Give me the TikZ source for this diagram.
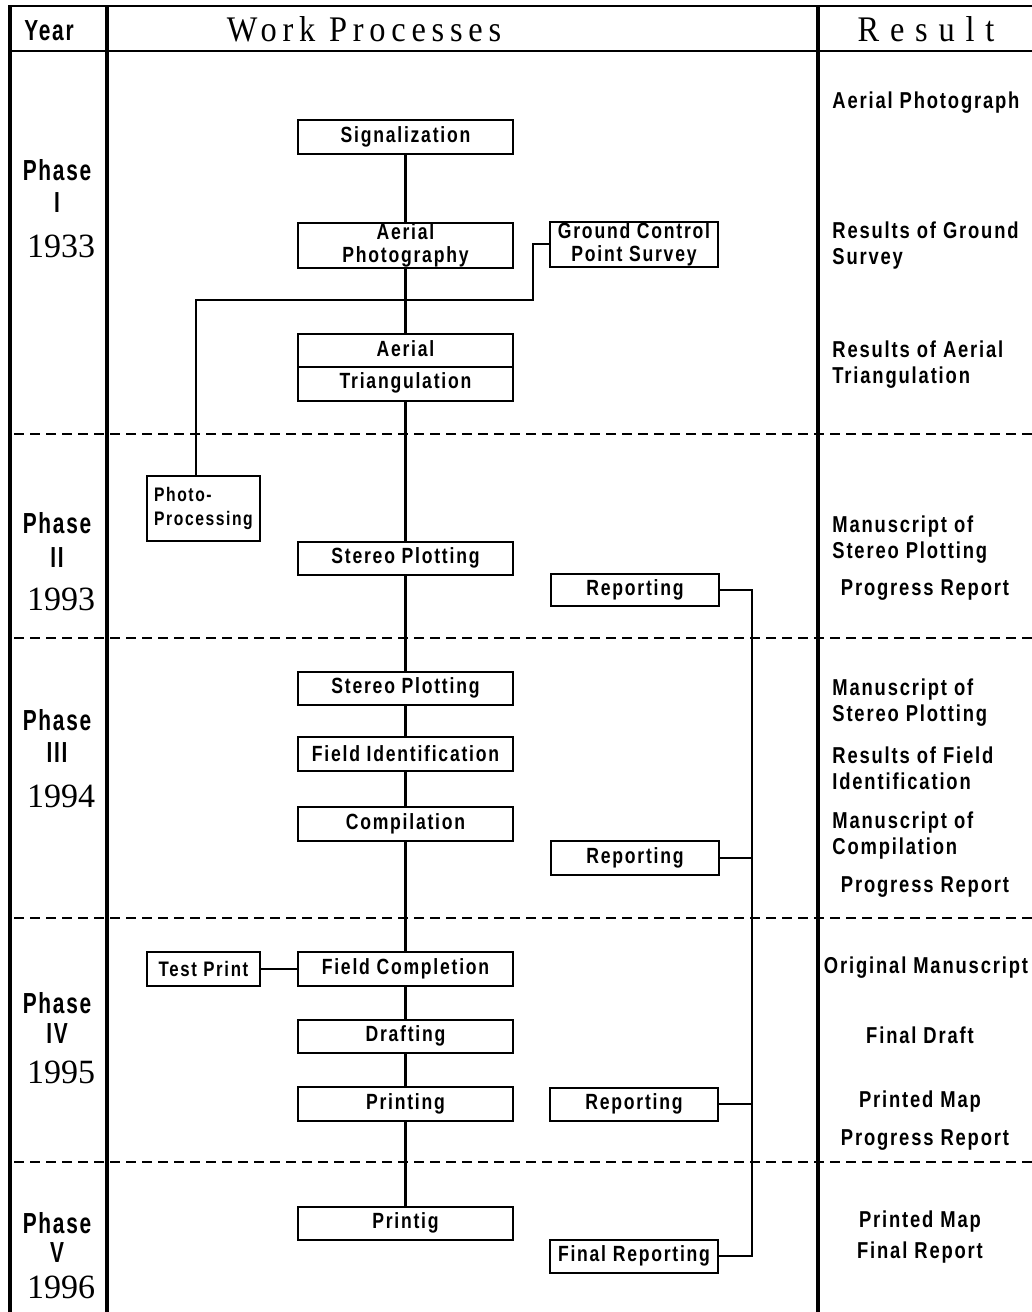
\documentclass[tikz,border=0pt]{standalone}
\usepackage{fontspec}
\setmainfont{Liberation Serif}
\newfontfamily\labfont[FakeStretch=0.8,LetterSpace=8]{Liberation Sans}
\newfontfamily\phfont[FakeStretch=0.72,LetterSpace=6]{Liberation Sans}
\newfontfamily\hdfont[FakeStretch=0.9,LetterSpace=16]{Liberation Serif}
\newfontfamily\rsfont[FakeStretch=0.9,LetterSpace=30]{Liberation Serif}
\begin{document}
\begin{tikzpicture}[x=0.5pt,y=-0.5pt,
  box/.style={draw, line width=1pt, rectangle, inner sep=0pt, align=center,
    font=\labfont\bfseries\fontsize{11}{12}\selectfont},
  mainw/.style={minimum width=107.5pt},
  sidew/.style={minimum width=84pt},
  conn/.style={line width=1.3pt},
  thinconn/.style={line width=0.9pt},
  frame/.style={line width=1.6pt},
  rule/.style={line width=0.6pt},
  sep/.style={line width=0.6pt, dash pattern=on 5pt off 3pt},
  res/.style={inner sep=0pt, align=left, font=\labfont\bfseries\fontsize{11.5}{13}\selectfont},
  ph/.style={inner sep=0pt, font=\phfont\bfseries\fontsize{14.5}{16}\selectfont},
  yr/.style={inner sep=0pt, font=\fontsize{17}{19}\selectfont}]
\useasboundingbox (0,0) rectangle (1032,1312);

% frame
\draw[frame] (10,5) -- (10,1312);
\draw[frame] (107,5) -- (107,1312);
\draw[frame] (818,5) -- (818,1312);
\draw[rule] (10,6) -- (1032,6);
\draw[rule] (10,51) -- (1032,51);
\foreach \yy in {434,638,918,1162} {\draw[sep] (14,\yy) -- (1032,\yy);}

% header
\node[inner sep=0pt, font=\phfont\bfseries\fontsize{14.5}{16}\selectfont] (hyear) at (49,31) {Year};
\node[inner sep=0pt, font=\hdfont\fontsize{18}{20}\selectfont] (hwork) at (364,29) {Work Processes};
\node[inner sep=0pt, font=\rsfont\fontsize{18}{20}\selectfont] (hres) at (926,29) {Result};

% phases
\node[ph] (p1a) at (57,170) {Phase};
\node[ph] (p1b) at (57,203) {I};
\node[yr] (p1c) at (61,246) {1933};
\node[ph] (p2a) at (57,523) {Phase};
\node[ph] (p2b) at (57,558) {II};
\node[yr] (p2c) at (61,599) {1993};
\node[ph] (p3a) at (57,720) {Phase};
\node[ph] (p3b) at (57,753) {III};
\node[yr] (p3c) at (61,796) {1994};
\node[ph] (p4a) at (57,1003) {Phase};
\node[ph] (p4b) at (57,1034) {IV};
\node[yr] (p4c) at (61,1072) {1995};
\node[ph] (p5a) at (57,1223) {Phase};
\node[ph] (p5b) at (57,1253) {V};
\node[yr] (p5c) at (61,1287) {1996};

% process boxes
\node[box, mainw, minimum height=17pt] (sig) at (405.5,137) {Signalization};
\node[box, mainw, minimum height=22.5pt, font=\labfont\bfseries\fontsize{11}{11.5}\selectfont] (aph) at (405.5,245) {Aerial\\Photography};
\node[box, mainw, minimum height=33.5pt, font=\labfont\bfseries\fontsize{11}{16}\selectfont] (atr) at (405.5,367) {Aerial\\Triangulation};
\draw[thinconn] (atr.west) -- (atr.east);
\node[box, sidew, minimum height=22.5pt, font=\labfont\bfseries\fontsize{11}{11.5}\selectfont] (gcp) at (634,244) {Ground Control\\Point Survey};
\node[box, minimum width=56.5pt, minimum height=32.5pt, align=left, font=\labfont\bfseries\fontsize{9.8}{12}\selectfont] (pp) at (203.5,508.5) {Photo-\\Processing};
\node[box, mainw, minimum height=16.5pt] (sp2) at (405.5,558) {Stereo Plotting};
\node[box, sidew, minimum height=16pt] (rep2) at (635,590) {Reporting};
\node[box, mainw, minimum height=16.5pt] (sp3) at (405.5,688) {Stereo Plotting};
\node[box, mainw, minimum height=17pt] (fid) at (405.5,754) {Field Identification};
\node[box, mainw, minimum height=17pt] (comp) at (405.5,824) {Compilation};
\node[box, sidew, minimum height=17pt] (rep3) at (635,858) {Reporting};
\node[box, minimum width=56.5pt, minimum height=17pt, font=\labfont\bfseries\fontsize{10.5}{12}\selectfont] (tp) at (203.5,969) {Test Print};
\node[box, mainw, minimum height=17pt] (fc) at (405.5,969) {Field Completion};
\node[box, mainw, minimum height=16.5pt] (dr) at (405.5,1036) {Drafting};
\node[box, mainw, minimum height=17pt] (pr) at (405.5,1104) {Printing};
\node[box, sidew, minimum height=16.5pt] (rep4) at (634,1104) {Reporting};
\node[box, mainw, minimum height=16.5pt] (ptg) at (405.5,1223) {Printig};
\node[box, sidew, minimum height=16.5pt] (frep) at (634,1256) {Final Reporting};

% main chain
\draw[conn] (sig.south) -- (aph.north);
\draw[conn] (aph.south) -- (atr.north);
\draw[conn] (atr.south) -- (sp2.north);
\draw[conn] (sp2.south) -- (sp3.north);
\draw[conn] (sp3.south) -- (fid.north);
\draw[conn] (fid.south) -- (comp.north);
\draw[conn] (comp.south) -- (fc.north);
\draw[conn] (fc.south) -- (dr.north);
\draw[conn] (dr.south) -- (pr.north);
\draw[conn] (pr.south) -- (ptg.north);

% ground control to photo-processing
\coordinate (k1) at (533,300);
\coordinate (k2) at (196,300);
\draw[thinconn] (gcp.west) -| (k1) -- (k2) -- (k2 |- pp.north);

% test print
\draw[thinconn] (tp.east) -- (fc.west);

% reporting bus
\coordinate (bt) at (752,590);
\coordinate (bb) at (752,1256);
\draw[thinconn] (rep2.east) -- (bt) -- (bb) -- (frep.east);
\draw[thinconn] (rep3.east) -- (rep3.east -| bt);
\draw[thinconn] (rep4.east) -- (rep4.east -| bt);

% results
\node[res, anchor=west] (r1) at (832,103) {Aerial Photograph};
\node[res, anchor=west] (r2) at (832,246) {Results of Ground\\Survey};
\node[res, anchor=west] (r3) at (832,365) {Results of Aerial\\Triangulation};
\node[res, anchor=west] (r4) at (832,540) {Manuscript of\\Stereo Plotting};
\node[res] (r5) at (925,590) {Progress Report};
\node[res, anchor=west] (r6) at (832,703) {Manuscript of\\Stereo Plotting};
\node[res, anchor=west] (r7) at (832,768) {Results of Field\\Identification};
\node[res, anchor=west] (r8) at (832,836) {Manuscript of\\Compilation};
\node[res] (r9) at (925,887) {Progress Report};
\node[res] (r10) at (926,968) {Original Manuscript};
\node[res] (r11) at (920,1035) {Final Draft};
\node[res] (r12) at (920,1102) {Printed Map};
\node[res] (r13) at (925,1140) {Progress Report};
\node[res] (r14) at (920,1222) {Printed Map};
\node[res] (r15) at (920,1253) {Final Report};
\end{tikzpicture}
\end{document}
